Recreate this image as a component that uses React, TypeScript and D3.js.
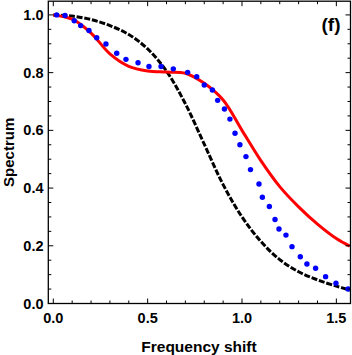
import React from "react";
import * as d3 from "d3";

// Frequency shift grid for the two curves
const xGrid = [0, 0.1, 0.2, 0.3, 0.4, 0.5, 0.6, 0.7, 0.8, 0.9, 1.0, 1.1, 1.2, 1.3, 1.4, 1.5, 1.5708];
const blackCurve = [1.0, 0.996, 0.984, 0.963, 0.932, 0.882, 0.805, 0.692, 0.552, 0.412, 0.3, 0.215, 0.152, 0.11, 0.082, 0.06, 0.047];
const redCurve = [1.0, 0.985, 0.937, 0.865, 0.822, 0.806, 0.802, 0.798, 0.763, 0.705, 0.6, 0.495, 0.405, 0.335, 0.275, 0.225, 0.199];

// Blue data points
const blueX = [0.018, 0.062, 0.111, 0.145, 0.189, 0.23, 0.279, 0.336, 0.385, 0.449, 0.507, 0.571, 0.636, 0.712, 0.76, 0.8, 0.843, 0.871, 0.907, 0.936, 0.963, 0.989, 1.021, 1.045, 1.09, 1.108, 1.145, 1.175, 1.196, 1.233, 1.265, 1.309, 1.344, 1.39, 1.443, 1.498, 1.562];
const blueY = [1.0, 0.998, 0.98, 0.963, 0.946, 0.921, 0.899, 0.867, 0.846, 0.834, 0.821, 0.821, 0.813, 0.801, 0.786, 0.757, 0.74, 0.704, 0.674, 0.639, 0.59, 0.55, 0.509, 0.464, 0.414, 0.368, 0.336, 0.291, 0.258, 0.237, 0.197, 0.162, 0.137, 0.122, 0.093, 0.07, 0.05];

const xMajor = [0, 0.5, 1.0, 1.5];
const yMajor = [0, 0.2, 0.4, 0.6, 0.8, 1.0];
const xLabel = "Frequency shift";
const yLabel = "Spectrum";
const panelLabel = "(f)";

const W = 352;
const H = 355;
const left = 48.3;
const right = 350.5;
const top = 1.2;
const bottom = 303.5;

export default function App() {
  const x = d3.scaleLinear().domain([-0.0265, 1.575]).range([left, right]);
  const y = d3.scaleLinear().domain([0, 1.0475]).range([bottom, top]);

  const line = d3
    .line<number>()
    .x((_, i) => x(xGrid[i]))
    .curve(d3.curveCatmullRom.alpha(0.5));

  const blackPath = line.y((d) => y(d))(blackCurve) || "";
  const redPath = line.y((d) => y(d))(redCurve) || "";

  const xMinor = d3.range(0, 1.56, 0.1).map((v) => +v.toFixed(2));
  const yMinor = d3.range(0, 1.04, 0.05).map((v) => +v.toFixed(2));
  const isMajor = (v: number, arr: number[]) => arr.some((a) => Math.abs(a - v) < 1e-6);

  const font = "'Liberation Sans', Arial, sans-serif";

  return (
    <svg
      width={W}
      height={H}
      style={{ position: "absolute", left: 0, top: 0, background: "#fff" }}
      fontFamily={font}
    >
      <defs>
        <clipPath id="plot">
          <rect x={left} y={top} width={right - left} height={bottom - top} />
        </clipPath>
      </defs>
      <g clipPath="url(#plot)">
        <path d={blackPath} fill="none" stroke="#000" strokeWidth={3} strokeDasharray="6,1.8" />
        <path d={redPath} fill="none" stroke="#ff0000" strokeWidth={3} />
        {blueX.map((bx, i) => (
          <circle key={i} cx={x(bx)} cy={y(blueY[i])} r={2.7} fill="#0000ff" />
        ))}
      </g>
      {/* frame */}
      <rect x={left} y={top} width={right - left} height={bottom - top} fill="none" stroke="#000" strokeWidth={1.3} />
      {/* x ticks bottom & top */}
      {xMinor.map((v) => {
        const len = isMajor(v, xMajor) ? 5 : 3;
        return (
          <g key={"xt" + v}>
            <line x1={x(v)} x2={x(v)} y1={bottom} y2={bottom - len} stroke="#000" strokeWidth={1} />
            <line x1={x(v)} x2={x(v)} y1={top} y2={top + len} stroke="#000" strokeWidth={1} />
          </g>
        );
      })}
      {yMinor.map((v) => {
        const len = isMajor(v, yMajor) ? 5 : 3;
        return (
          <g key={"yt" + v}>
            <line x1={left} x2={left + len} y1={y(v)} y2={y(v)} stroke="#000" strokeWidth={1} />
            <line x1={right} x2={right - len} y1={y(v)} y2={y(v)} stroke="#000" strokeWidth={1} />
          </g>
        );
      })}
      {xMajor.map((v) => (
        <text key={"xl" + v} x={x(v)} y={323} textAnchor="middle" fontSize={14.5} fontWeight="bold" fill="#000">
          {v.toFixed(1)}
        </text>
      ))}
      {yMajor.map((v) => (
        <text key={"yl" + v} x={43.5} y={y(v) + 5} textAnchor="end" fontSize={14.5} fontWeight="bold" fill="#000">
          {v.toFixed(1)}
        </text>
      ))}
      <text x={199} y={352} textAnchor="middle" fontSize={15.5} fontWeight="bold" fill="#000">
        {xLabel}
      </text>
      <text
        transform={`translate(14,${(top + bottom) / 2}) rotate(-90)`}
        textAnchor="middle"
        fontSize={15}
        fontWeight="bold"
        fill="#000"
      >
        {yLabel}
      </text>
      <text x={331} y={31} textAnchor="middle" fontSize={19} fontWeight="bold" fill="#000">
        {panelLabel}
      </text>
    </svg>
  );
}
